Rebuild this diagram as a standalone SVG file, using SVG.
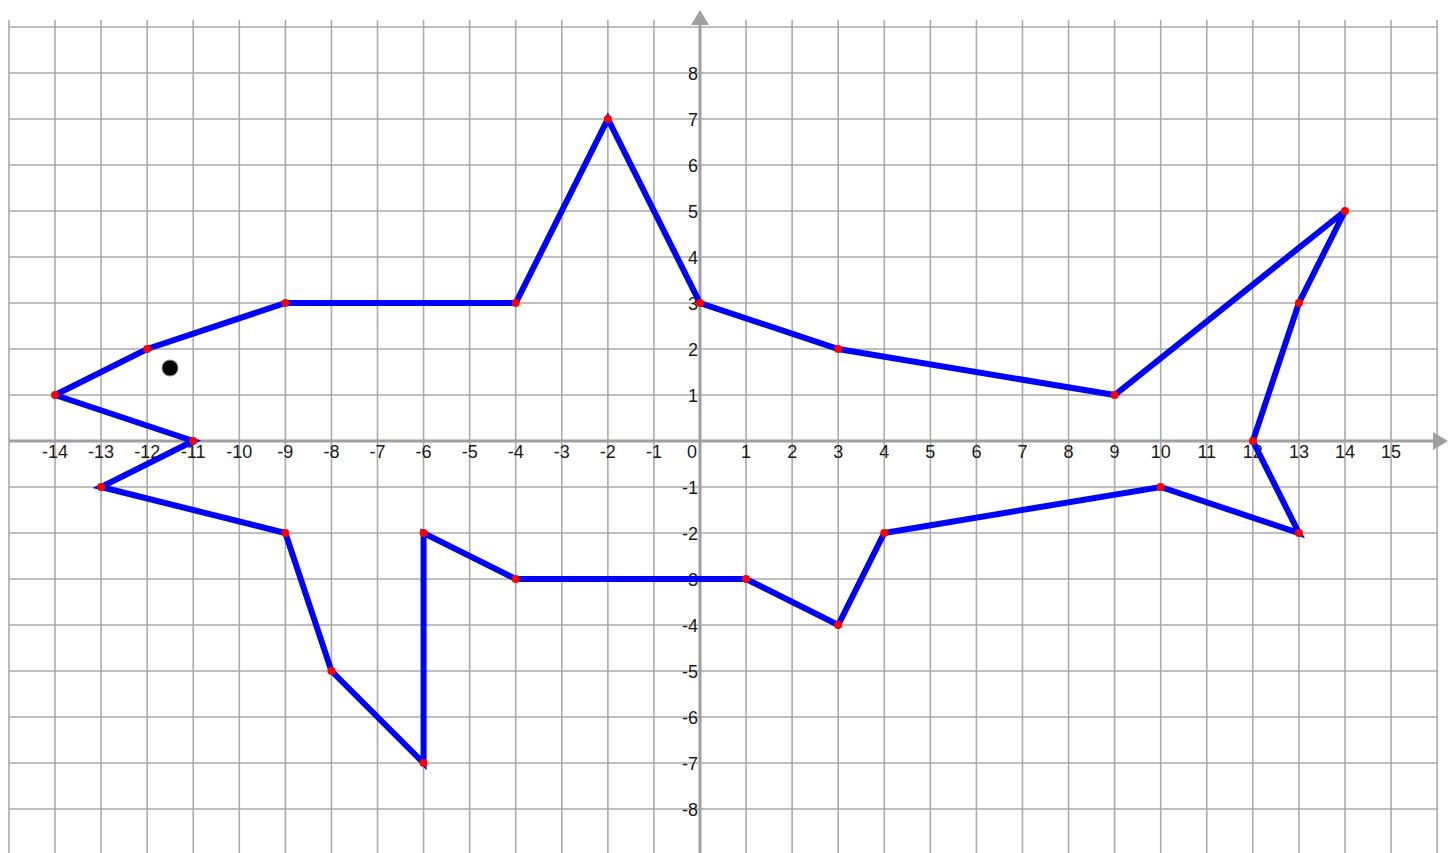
<svg xmlns="http://www.w3.org/2000/svg" width="1452" height="853" viewBox="0 0 1452 853">
<style>
.grid{stroke:#ababab;stroke-width:1.6;fill:none}
.axis{stroke:#a0a0a0;stroke-width:3;fill:none}
.lbl{font-family:"Liberation Sans",Arial,sans-serif;font-size:18px;fill:#1a1a1a}
.xl{text-anchor:middle}
.yl{text-anchor:end}
.shark{fill:none;stroke:#0000ff;stroke-width:6;stroke-linejoin:miter;stroke-miterlimit:4}
.pt{fill:#ff0000}
</style>
<rect width="1452" height="853" fill="#ffffff"/>
<g id="grid">
<path class="grid" d="M8.95 20V853M55.02 20V853M101.09 20V853M147.16 20V853M193.23 20V853M239.3 20V853M285.37 20V853M331.44 20V853M377.51 20V853M423.58 20V853M469.65 20V853M515.72 20V853M561.79 20V853M607.86 20V853M653.93 20V853M746.07 20V853M792.14 20V853M838.21 20V853M884.28 20V853M930.35 20V853M976.42 20V853M1022.49 20V853M1068.56 20V853M1114.63 20V853M1160.7 20V853M1206.77 20V853M1252.84 20V853M1298.91 20V853M1344.98 20V853M1391.05 20V853M1437.12 20V853"/>
<path class="grid" d="M9 27H1437M9 73H1437M9 119H1437M9 165H1437M9 211H1437M9 257H1437M9 303H1437M9 349H1437M9 395H1437M9 487H1437M9 533H1437M9 579H1437M9 625H1437M9 671H1437M9 717H1437M9 763H1437M9 809H1437"/>
</g>
<g id="axes">
<path class="axis" d="M9 441H1435"/>
<path class="axis" d="M700 24V853"/>
<polygon points="1448,441 1433,432 1433,450" fill="#a0a0a0"/>
<polygon points="700,10 691,25 709,25" fill="#a0a0a0"/>
</g>
<g id="x-labels" class="lbl xl">
<text x="55.02" y="458">-14</text>
<text x="101.09" y="458">-13</text>
<text x="147.16" y="458">-12</text>
<text x="193.23" y="458">-11</text>
<text x="239.3" y="458">-10</text>
<text x="285.37" y="458">-9</text>
<text x="331.44" y="458">-8</text>
<text x="377.51" y="458">-7</text>
<text x="423.58" y="458">-6</text>
<text x="469.65" y="458">-5</text>
<text x="515.72" y="458">-4</text>
<text x="561.79" y="458">-3</text>
<text x="607.86" y="458">-2</text>
<text x="653.93" y="458">-1</text>
<text x="746.07" y="458">1</text>
<text x="792.14" y="458">2</text>
<text x="838.21" y="458">3</text>
<text x="884.28" y="458">4</text>
<text x="930.35" y="458">5</text>
<text x="976.42" y="458">6</text>
<text x="1022.49" y="458">7</text>
<text x="1068.56" y="458">8</text>
<text x="1114.63" y="458">9</text>
<text x="1160.7" y="458">10</text>
<text x="1206.77" y="458">11</text>
<text x="1252.84" y="458">12</text>
<text x="1298.91" y="458">13</text>
<text x="1344.98" y="458">14</text>
<text x="1391.05" y="458">15</text>
</g>
<g id="y-labels" class="lbl yl">
<text x="697" y="458">0</text>
<text x="698" y="80">8</text>
<text x="698" y="126">7</text>
<text x="698" y="172">6</text>
<text x="698" y="218">5</text>
<text x="698" y="264">4</text>
<text x="698" y="310">3</text>
<text x="698" y="356">2</text>
<text x="698" y="402">1</text>
<text x="698" y="494">-1</text>
<text x="698" y="540">-2</text>
<text x="698" y="586">-3</text>
<text x="698" y="632">-4</text>
<text x="698" y="678">-5</text>
<text x="698" y="724">-6</text>
<text x="698" y="770">-7</text>
<text x="698" y="816">-8</text>
</g>
<g id="shark">
<path class="shark" d="M55.02 395L147.16 349L285.37 303L515.72 303L607.86 119L700 303L838.21 349L1114.63 395L1344.98 211L1298.91 303L1252.84 441L1298.91 533L1160.7 487L884.28 533L838.21 625L746.07 579L515.72 579L423.58 533L423.58 763L331.44 671L285.37 533L101.09 487L193.23 441L55.02 395"/>
</g>
<g id="vertices">
<circle class="pt" cx="55.02" cy="395" r="4"/>
<circle class="pt" cx="147.16" cy="349" r="4"/>
<circle class="pt" cx="285.37" cy="303" r="4"/>
<circle class="pt" cx="515.72" cy="303" r="4"/>
<circle class="pt" cx="607.86" cy="119" r="4"/>
<circle class="pt" cx="700" cy="303" r="4"/>
<circle class="pt" cx="838.21" cy="349" r="4"/>
<circle class="pt" cx="1114.63" cy="395" r="4"/>
<circle class="pt" cx="1344.98" cy="211" r="4"/>
<circle class="pt" cx="1298.91" cy="303" r="4"/>
<circle class="pt" cx="1252.84" cy="441" r="4"/>
<circle class="pt" cx="1298.91" cy="533" r="4"/>
<circle class="pt" cx="1160.7" cy="487" r="4"/>
<circle class="pt" cx="884.28" cy="533" r="4"/>
<circle class="pt" cx="838.21" cy="625" r="4"/>
<circle class="pt" cx="746.07" cy="579" r="4"/>
<circle class="pt" cx="515.72" cy="579" r="4"/>
<circle class="pt" cx="423.58" cy="533" r="4"/>
<circle class="pt" cx="423.58" cy="763" r="4"/>
<circle class="pt" cx="331.44" cy="671" r="4"/>
<circle class="pt" cx="285.37" cy="533" r="4"/>
<circle class="pt" cx="101.09" cy="487" r="4"/>
<circle class="pt" cx="193.23" cy="441" r="4"/>
</g>
<g id="eye">
<circle cx="170" cy="368" r="8" fill="#000000" stroke="#888888" stroke-width="1"/>
</g>
</svg>
